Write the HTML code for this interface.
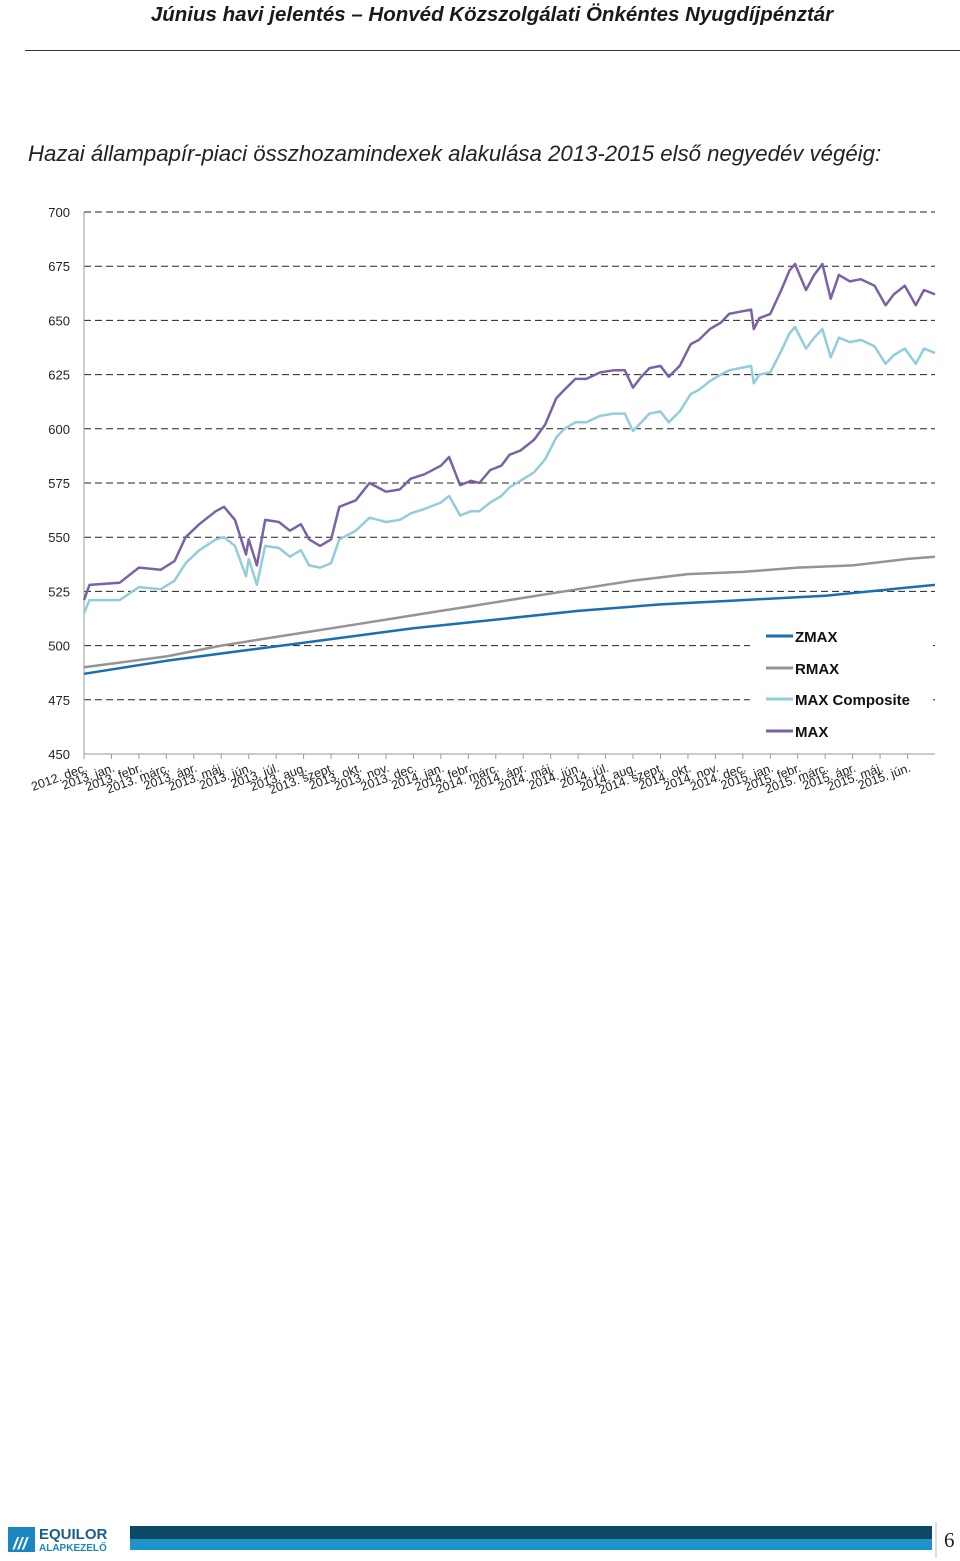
<!DOCTYPE html>
<html><head><meta charset="utf-8"><style>
body{margin:0;width:960px;height:1561px;background:#fff;position:relative;overflow:hidden;font-family:"Liberation Sans",sans-serif}
.hdr{position:absolute;top:3px;left:0;width:984px;text-align:center;font-weight:bold;font-style:italic;font-size:20.5px;color:#1a1a1a}
.rule{position:absolute;top:50px;left:25px;width:935px;height:1px;background:#333}
.ttl{position:absolute;top:141px;left:28px;font-style:italic;font-size:22.2px;color:#222}
svg{position:absolute;left:0;top:0}
</style></head><body>
<div class="hdr">Június havi jelentés – Honvéd Közszolgálati Önkéntes Nyugdíjpénztár</div>
<div class="rule"></div>
<div class="ttl">Hazai állampapír-piaci összhozamindexek alakulása 2013-2015 első negyedév végéig:</div>
<svg id="chart" width="960" height="820"></svg>
<svg width="960" height="1561" style="pointer-events:none">
<rect x="8" y="1527" width="27" height="25" fill="#1a86c0"/>
<text x="13" y="1549" font-size="17" font-weight="bold" font-style="italic" fill="#fff">///</text>
<text x="39" y="1539" font-size="15" font-weight="bold" fill="#1a5f8c">EQUILOR</text>
<text x="39" y="1551" font-size="10" font-weight="bold" fill="#1a86c0">ALAPKEZELŐ</text>
<rect x="130" y="1526" width="802" height="13" fill="#0d4865"/>
<rect x="130" y="1539" width="802" height="11" fill="#1e93c8"/>
<line x1="936" y1="1522" x2="936" y2="1558" stroke="#bbb"/>
<text x="944" y="1547" font-size="21" font-family="Liberation Serif" fill="#222">6</text>
</svg>
<script>
const yTicks=[450,475,500,525,550,575,600,625,650,675,700];
const months=["2012. dec.","2013. jan.","2013. febr.","2013. márc.","2013. ápr.","2013. máj.","2013. jún.","2013. júl.","2013. aug.","2013. szept.","2013. okt.","2013. nov.","2013. dec.","2014. jan.","2014. febr.","2014. márc.","2014. ápr.","2014. máj.","2014. jún.","2014. júl.","2014. aug.","2014. szept.","2014. okt.","2014. nov.","2014. dec.","2015. jan.","2015. febr.","2015. márc.","2015. ápr.","2015. máj.","2015. jún."];
const tMax=[0,0.2,1.3,2.0,2.8,3.3,3.7,4.2,4.8,5.1,5.5,5.9,6.0,6.3,6.6,7.1,7.5,7.9,8.2,8.6,9.0,9.3,9.9,10.4,11.0,11.5,11.9,12.4,13.0,13.3,13.7,14.1,14.4,14.8,15.2,15.5,15.9,16.4,16.8,17.2,17.5,17.9,18.3,18.8,19.3,19.7,20.0,20.3,20.6,21.0,21.3,21.7,22.1,22.4,22.8,23.2,23.5,23.9,24.3,24.4,24.6,25.0,25.4,25.7,25.9,26.3,26.6,26.9,27.2,27.5,27.9,28.3,28.8,29.2,29.5,29.9,30.3,30.6,31.0];
const maxVals=[521,528,529,536,535,539,550,556,562,564,558,542,549,537,558,557,553,556,549,546,549,564,567,575,571,572,577,579,583,587,574,576,575,581,583,588,590,595,602,614,618,623,623,626,627,627,619,624,628,629,624,629,639,641,646,649,653,654,655,646,651,653,664,673,676,664,671,676,660,671,668,669,666,657,662,666,657,664,662];
const compVals=[515,521,521,527,526,530,538,544,549,550,546,532,540,528,546,545,541,544,537,536,538,549,553,559,557,558,561,563,566,569,560,562,562,566,569,573,576,580,586,596,600,603,603,606,607,607,599,603,607,608,603,608,616,618,622,625,627,628,629,621,625,626,636,644,647,637,642,646,633,642,640,641,638,630,634,637,630,637,635];
const tR=[0,3,5,7,9,11,13,14,16,18,20,22,24,26,28,30,31];
const rmaxVals=[490,495,500,504,508,512,516,518,522,526,530,533,534,536,537,540,541];
const tZ=[0,3,6,9,12,15,18,21,24,27,31];
const zmaxVals=[487,493,498,503,508,512,516,519,521,523,528];
const NS="http://www.w3.org/2000/svg",svg=document.getElementById('chart');
const X0=84,X1=935,Y0=754,Y1=212;
const xs=t=>X0+(X1-X0)*t/31, ys=v=>Y0-(v-450)*(Y0-Y1)/250;
function mk(tag,attrs){const e=document.createElementNS(NS,tag);for(const k in attrs)e.setAttribute(k,attrs[k]);svg.appendChild(e);return e;}
yTicks.forEach(v=>{
 if(v>450){const g=mk('line',{x1:X0,x2:X1,y1:ys(v),y2:ys(v),stroke:'#222','stroke-width':1,'stroke-dasharray':'7,4'});
 
 }
 const t=mk('text',{x:70,y:ys(v)+5,'text-anchor':'end','font-size':13,fill:'#222'});t.textContent=v;
 
 
});
const ax=mk('line',{x1:X0,x2:X1,y1:Y0,y2:Y0,stroke:'#999'});


const ay=mk('line',{x1:X0,x2:X0,y1:Y1,y2:Y0,stroke:'#999'});


months.forEach((m,i)=>{
 const x=xs(i);
 mk('line',{x1:x,x2:x,y1:Y0,y2:Y0+5,stroke:'#999'});
 const t=mk('text',{x:x+4,y:Y0+17,'text-anchor':'end','font-size':12.5,fill:'#222',transform:`rotate(-20 ${x+4} ${Y0+17})`});
 t.textContent=m;
 
 
});
function line(ts,vs,color,w,name){
 const p=mk('path',{d:vs.map((v,i)=>(i?'L':'M')+xs(ts[i]).toFixed(1)+' '+ys(v).toFixed(1)).join(' '),fill:'none',stroke:color,'stroke-width':w,'stroke-linejoin':'round'});
 
 
}
line(tZ,zmaxVals,'#1a6fb0',2.5,'series-zmax');
line(tR,rmaxVals,'#949494',2.5,'series-rmax');
line(tMax,compVals,'#92cddc',2.5,'series-max-composite');
line(tMax,maxVals,'#7b62a2',2.5,'series-max');
const lb=mk('rect',{x:750,y:622,width:183,height:124,fill:'#fff'});


[['ZMAX','#1a6fb0',636],['RMAX','#949494',668],['MAX Composite','#92cddc',699],['MAX','#7b62a2',731]].forEach(([n,c,y])=>{
 mk('line',{x1:766,x2:793,y1:y,y2:y,stroke:c,'stroke-width':3});
 const t=mk('text',{x:795,y:y+6,'font-size':15,'font-weight':'bold',fill:'#111'});t.textContent=n;
 
 
});
</script>
</body></html>
